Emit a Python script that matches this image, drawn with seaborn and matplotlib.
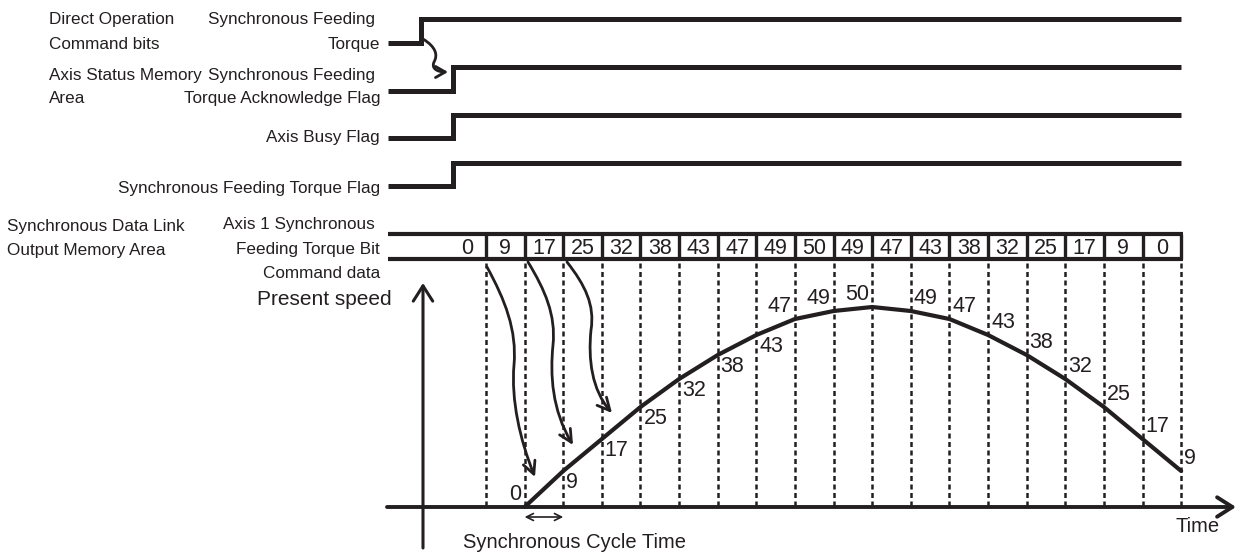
import numpy as np
import matplotlib
matplotlib.use("Agg")
import matplotlib.pyplot as plt
from matplotlib import font_manager
from matplotlib.patches import FancyArrowPatch, ArrowStyle
from matplotlib.path import Path
import seaborn as sns

# ---------------- data ----------------
command_values = [0, 9, 17, 25, 32, 38, 43, 47, 49, 50, 49, 47, 43, 38, 32, 25, 17, 9, 0]
speed_values = [0, 9, 17, 25, 32, 38, 43, 47, 49, 50, 49, 47, 43, 38, 32, 25, 17, 9]
signal_labels = ["Torque", "Torque Acknowledge Flag", "Axis Busy Flag",
                 "Synchronous Feeding Torque Flag"]
group_labels = [["Direct Operation", "Command bits"],
                ["Axis Status Memory", "Area"],
                ["Synchronous Data Link", "Output Memory Area"]]

sns.set_theme(style="white")
names = {f.name for f in font_manager.fontManager.ttflist}
narrow = "Liberation Sans Narrow" in names
plt.rcParams["font.family"] = ["Liberation Sans", "DejaVu Sans"]
LBL_FAM = ["Liberation Sans Narrow", "Liberation Sans"] if narrow else ["Liberation Sans"]
LBL_SIZE = 14.6 if narrow else 12.3
INK = "#231f20"

fig = plt.figure(figsize=(12.37, 5.53), dpi=100)
ax = fig.add_axes([0, 0, 1, 1])
ax.set_xlim(0, 1237)
ax.set_ylim(553, 0)
ax.axis("off")

# layout
X0, STEP = 486.0, 38.62          # first cycle boundary, cycle width
XL, XR = 388.0, X0 + 18 * STEP   # left start of traces, right end
BASE, SCALE = 507.0, 4.0         # speed baseline and px per unit
px = lambda k: X0 + STEP * k
py = lambda v: BASE - SCALE * v


def lbl(x, y, s, ha="right", fam=None, size=None):
    ax.text(x, y, s, ha=ha, va="baseline", color=INK,
            family=fam or LBL_FAM, fontsize=size or LBL_SIZE)

# ---------------- digital signals ----------------
levels = [(43, 19), (91, 67), (138, 115), (186, 163)]
rises = [421, 453, 453, 453]
for (lo, hi), xr in zip(levels, rises):
    ax.plot([XL, xr, xr, XR], [lo, lo, hi, hi], color=INK, lw=3.6,
            solid_joinstyle="miter", solid_capstyle="butt")

lbl(375, 24, "Synchronous Feeding")
lbl(380, 49, signal_labels[0])
lbl(375, 80, "Synchronous Feeding")
lbl(380, 103, signal_labels[1])
lbl(380, 142, signal_labels[2])
lbl(380, 193, signal_labels[3])
lbl(49, 24, group_labels[0][0], ha="left")
lbl(49, 49, group_labels[0][1], ha="left")
lbl(49, 80, group_labels[1][0], ha="left")
lbl(49, 103, group_labels[1][1], ha="left")
lbl(7, 231, group_labels[2][0], ha="left")
lbl(7, 255, group_labels[2][1], ha="left")
lbl(375, 229, "Axis 1 Synchronous")
lbl(380, 254, "Feeding Torque Bit")
lbl(380, 278, "Command data")

# small wavy arrow between the first two signals
v = [(423, 39), (436, 47), (438, 55), (434, 62), (431, 69), (438, 72), (448, 72)]
c = [Path.MOVETO, Path.CURVE4, Path.CURVE4, Path.CURVE4, Path.CURVE4, Path.CURVE4, Path.CURVE4]
ax.add_patch(FancyArrowPatch(path=Path(v, c), arrowstyle=ArrowStyle("->", head_length=7, head_width=4),
                             mutation_scale=1, color=INK, lw=2.0))

# ---------------- command data box ----------------
BT, BB = 234.0, 259.0
ax.plot([XL, XR + 1.5], [BT, BT], color=INK, lw=3.0, solid_capstyle="butt")
ax.plot([XL, XR + 1.5], [BB, BB], color=INK, lw=3.0, solid_capstyle="butt")
ax.vlines([px(k) for k in range(19)], BT, BB, color=INK, lw=2.4)
for i, val in enumerate(command_values):
    ax.text(px(i - 0.5), 253.5, str(val), ha="center", va="baseline",
            fontsize=15.5, color=INK)

# ---------------- speed chart ----------------
ax.vlines([px(k) for k in range(19)], 263, BASE - 2, color=INK, lw=1.8,
          linestyles=(0, (2.0, 1.4)))

# axes
ax.add_patch(FancyArrowPatch((XL - 1, BASE), (1236, BASE),
                             arrowstyle=ArrowStyle("->", head_length=11, head_width=7),
                             mutation_scale=1, color=INK, lw=2.8, shrinkA=0, shrinkB=0))
ax.add_patch(FancyArrowPatch((423, 548), (423, 283),
                             arrowstyle=ArrowStyle("->", head_length=11, head_width=7),
                             mutation_scale=1, color=INK, lw=2.2, shrinkA=0, shrinkB=0))

xs = [px(k + 1) for k in range(len(speed_values))]
ys = [py(s) for s in speed_values]
sns.lineplot(x=xs, y=ys, ax=ax, color=INK, lw=3.0, sort=False)

peak = int(np.argmax(speed_values))
for i, (x, s) in enumerate(zip(xs, speed_values)):
    y = py(s)
    if i == 0 or (peak - 2 <= i <= peak):
        ax.text(x - 3, y - 15 + 7.5, str(s), ha="right", va="baseline", fontsize=15.5, color=INK)
    elif i < peak:
        ax.text(x + 3, y + 10 + 7.5, str(s), ha="left", va="baseline", fontsize=15.5, color=INK)
    else:
        ax.text(x + 3, y - 15 + 7.5, str(s), ha="left", va="baseline", fontsize=15.5, color=INK)

lbl(392, 305, "Present speed", size=15)
ax.text(1220, 532, "Time", ha="right", va="baseline", fontsize=14.5, color=INK)
ax.text(463, 548, "Synchronous Cycle Time", ha="left", va="baseline", fontsize=14.5, color=INK)
ax.add_patch(FancyArrowPatch((px(1), 517), (px(2), 517),
                             arrowstyle=ArrowStyle("<->", head_length=5, head_width=2.5),
                             mutation_scale=1, color=INK, lw=1.2, shrinkA=0, shrinkB=0))

# wavy arrows from command data to speed curve
curly = [
    [(487, 267), (505, 300), (517, 330), (514, 365), (511, 400), (520, 440), (535, 477)],
    [(528, 262), (545, 290), (556, 315), (553, 345), (550, 375), (552, 410), (573, 445)],
    [(567, 262), (585, 285), (595, 305), (591, 330), (588, 360), (592, 390), (612, 413)],
]
for verts in curly:
    ax.add_patch(FancyArrowPatch(path=Path(verts, c),
                                 arrowstyle=ArrowStyle("->", head_length=9, head_width=4.5),
                                 mutation_scale=1, color=INK, lw=2.0))

fig.savefig("out.png", dpi=100)
